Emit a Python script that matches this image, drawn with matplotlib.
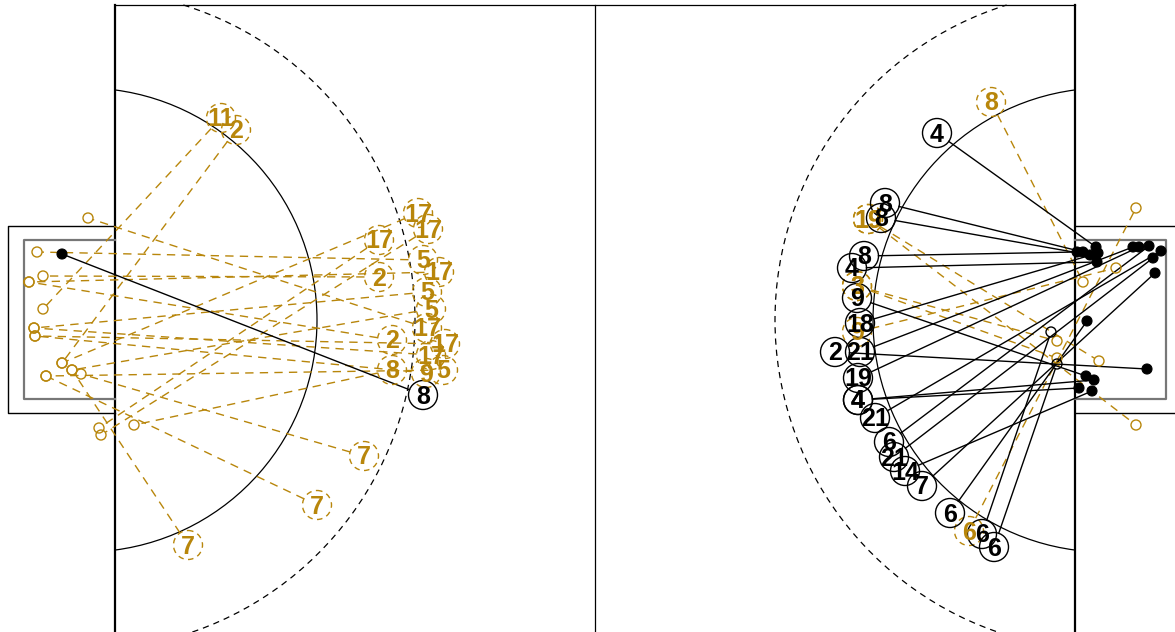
import numpy as np
import matplotlib
matplotlib.use("Agg")
import matplotlib.pyplot as plt
from matplotlib.patches import Circle, Arc

# ---------------- data (court units) ----------------
left_black_lab = ['8']
left_black_x = [423]
left_black_y = [395]
left_black_tx = [62]
left_black_ty = [254]

left_gold_lab = ['11', '2', '17', '17', '17', '2', '5', '17', '5', '5',
                 '17', '2', '17', '17', '8', '9', '5', '7', '7', '7']
left_gold_x = [221, 236, 418, 428, 379, 379, 423, 439, 427, 431,
               427, 392, 445, 431, 392, 426, 443, 364, 317, 188]
left_gold_y = [118, 130, 213, 229, 240, 277, 260, 272, 292, 309,
               328, 340, 344, 355, 370, 373, 370, 456, 505, 545]
left_gold_tx = [43, 62, 62, 101, 99, 43, 37, 29, 34, 72,
                88, 29, 35, 34, 134, 35, 46, 81, 46, 72]
left_gold_ty = [309, 363, 363, 435, 428, 276, 252, 282, 328, 370,
                218, 282, 336, 328, 425, 336, 376, 374, 376, 370]

right_gold_lab = ['8', '19', '19', '3', '3', '9', '6']
right_gold_x = [991, 868, 868, 857, 857, 857, 969]
right_gold_y = [102, 219, 219, 286, 286, 332, 531]
right_gold_tx = [1083, 1099, 1136, 1057, 1057, 1116, 1136]
right_gold_ty = [282, 361, 425, 341, 358, 268, 208]

right_black_lab = ['4', '8', '8', '8', '4', '9', '18', '2', '21', '19',
                   '4', '4', '21', '6', '21', '14', '7', '6', '6', '6']
right_black_x = [937, 885, 881, 864, 852, 857, 860, 835, 860, 858,
                 858, 858, 875, 889, 894, 905, 922, 950, 982, 994]
right_black_y = [133, 203, 218, 256, 268, 298, 323, 352, 352, 378,
                 400, 400, 418, 442, 457, 471, 486, 513, 534, 547]
right_black_tx = [1096, 1083, 1090, 1077, 1097, 1086, 1098, 1147, 1133, 1139,
                  1079, 1094, 1161, 1149, 1153, 1092, 1155, 1087, 1051, 1057]
right_black_ty = [247, 252, 255, 252, 262, 376, 253, 369, 247, 247,
                  388, 380, 251, 246, 258, 391, 273, 321, 332, 364]
right_black_filled = [True] * 18 + [False, False]

# ---------------- styles ----------------
GOLD = '#b8860b'
BLACK = '#000000'
GREY = '#777777'
SHOT_R = 14.5
TGT_R = 5.0
FONT = ['Liberation Sans', 'DejaVu Sans']

# court geometry
X0, X1, XM = 115, 1075, 595
Y0, Y1 = 5, 635
GCY = 320
ARC_OFF = 30
CREASE_R = 232
FREE_R = 330

fig = plt.figure(figsize=(11.75, 6.32), dpi=100)
ax = fig.add_axes([0, 0, 1, 1])
ax.set_xlim(0, 1175)
ax.set_ylim(632, 0)
ax.axis('off')

# court outline
ax.plot([X0, X1], [Y0, Y0], color=BLACK, lw=0.9)
ax.plot([X0, X1], [Y1, Y1], color=BLACK, lw=0.9)
ax.plot([XM, XM], [Y0, Y1], color=BLACK, lw=0.9)
ax.plot([X0, X0], [Y0, Y1], color=BLACK, lw=1.6)
ax.plot([X1, X1], [Y0, Y1], color=BLACK, lw=1.6)

# goal boxes
for gx, sgn in ((X0, -1), (X1, 1)):
    ox = 107
    ix = 91
    ax.plot([gx, gx + sgn * ox, gx + sgn * ox, gx], [226, 226, 413, 413],
            color=BLACK, lw=1.0)
    ax.plot([gx, gx + sgn * ix, gx + sgn * ix, gx], [240, 240, 399, 399],
            color=GREY, lw=1.6)

# arcs (clipped to the court)
for gx, sgn in ((X0, 1), (X1, -1)):
    cx = gx - sgn * ARC_OFF
    base = 0 if sgn == 1 else 180
    a1 = np.degrees(np.arccos(ARC_OFF / CREASE_R))
    ax.add_patch(Arc((cx, GCY), 2 * CREASE_R, 2 * CREASE_R, theta1=base - a1,
                     theta2=base + a1, color=BLACK, lw=0.9))
    a2 = min(np.degrees(np.arccos(ARC_OFF / FREE_R)),
             np.degrees(np.arcsin((GCY - Y0) / FREE_R)))
    ax.add_patch(Arc((cx, GCY), 2 * FREE_R, 2 * FREE_R, theta1=base - a2,
                     theta2=base + a2, color=BLACK, lw=0.9,
                     linestyle=(0, (5, 4))))


def trim(x0, y0, x1, y1, r0, r1):
    dx, dy = x1 - x0, y1 - y0
    d = np.hypot(dx, dy)
    ux, uy = dx / d, dy / d
    return (x0 + ux * r0, x1 - ux * r1), (y0 + uy * r0, y1 - uy * r1)


def draw_set(labs, xs, ys, txs, tys, color, dashed, filled=None):
    n = len(labs)
    if filled is None:
        filled = [not dashed] * n
    ls_line = (0, (6, 4.5)) if dashed else '-'
    ls_circ = (0, (4, 3.2)) if dashed else '-'
    for i in range(n):
        lx, ly = trim(xs[i], ys[i], txs[i], tys[i], SHOT_R,
                      0 if filled[i] else TGT_R)
        ax.plot(lx, ly, color=color, lw=1.0, linestyle=ls_line, zorder=2)
    for i in range(n):
        if filled[i]:
            ax.add_patch(Circle((txs[i], tys[i]), TGT_R, facecolor=color,
                                edgecolor=color, lw=0.8, zorder=3))
        else:
            ax.add_patch(Circle((txs[i], tys[i]), TGT_R, facecolor='none',
                                edgecolor=color, lw=1.0, zorder=3))
    for i in range(n):
        ax.add_patch(Circle((xs[i], ys[i]), SHOT_R, facecolor='none',
                            edgecolor=color, lw=1.0, linestyle=ls_circ,
                            zorder=4))
        ax.text(xs[i], ys[i] + 1.5, labs[i], color=color, fontsize=18,
                fontweight='bold', family=FONT, ha='center', va='center',
                zorder=5)


draw_set(left_gold_lab, left_gold_x, left_gold_y, left_gold_tx, left_gold_ty,
         GOLD, True, [False] * len(left_gold_lab))
draw_set(right_gold_lab, right_gold_x, right_gold_y, right_gold_tx,
         right_gold_ty, GOLD, True, [False] * len(right_gold_lab))
draw_set(left_black_lab, left_black_x, left_black_y, left_black_tx,
         left_black_ty, BLACK, False)
draw_set(right_black_lab, right_black_x, right_black_y, right_black_tx,
         right_black_ty, BLACK, False, right_black_filled)

fig.savefig('out.png', dpi=100)
